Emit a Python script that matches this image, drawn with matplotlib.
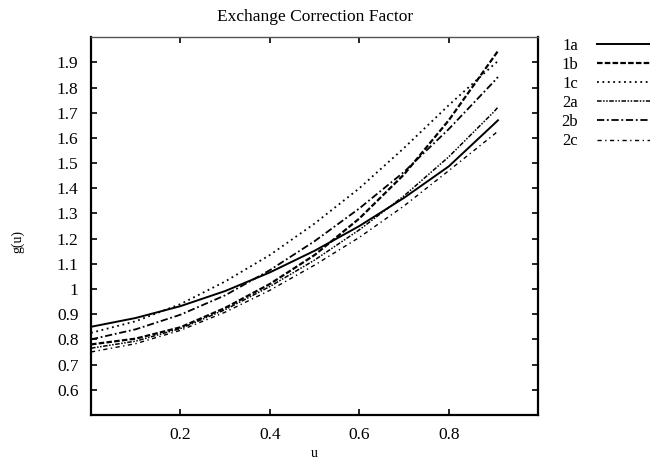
import matplotlib
matplotlib.use('Agg')
import matplotlib.pyplot as plt

plt.rcParams['font.family'] = ['Liberation Serif', 'DejaVu Serif']

# sample points along u
u = [0.0, 0.1, 0.2, 0.3, 0.4, 0.5, 0.6, 0.7, 0.8, 0.9, 0.91]
g_1a = [0.850, 0.885, 0.932, 0.992, 1.066, 1.152, 1.250, 1.362, 1.487, 1.653, 1.670]
g_1b = [0.780, 0.803, 0.848, 0.925, 1.020, 1.135, 1.280, 1.455, 1.670, 1.920, 1.945]
g_1c = [0.826, 0.872, 0.940, 1.030, 1.135, 1.260, 1.400, 1.560, 1.730, 1.890, 1.905]
g_2a = [0.765, 0.793, 0.843, 0.918, 1.010, 1.115, 1.235, 1.370, 1.525, 1.702, 1.722]
g_2b = [0.800, 0.840, 0.898, 0.975, 1.075, 1.190, 1.320, 1.465, 1.635, 1.822, 1.842]
g_2c = [0.750, 0.783, 0.836, 0.908, 0.995, 1.095, 1.205, 1.330, 1.470, 1.612, 1.627]

labels = ['1a', '1b', '1c', '2a', '2b', '2c']
series = [g_1a, g_1b, g_1c, g_2a, g_2b, g_2c]
styles = ['-', (0, (2.5, 1)), (0, (1, 2)), (0, (3, 1, 1, 1, 1, 1)),
          (0, (4, 1.5, 1, 1.5)), (0, (3, 2.5, 1, 2.5))]
widths = [1.4, 1.6, 1.3, 1.1, 1.3, 1.0]
x_ticks = [0.2, 0.4, 0.6, 0.8]
y_ticks = [0.6, 0.7, 0.8, 0.9, 1.0, 1.1, 1.2, 1.3, 1.4, 1.5, 1.6, 1.7, 1.8, 1.9]
y_tick_labels = ['0.6', '0.7', '0.8', '0.9', '1', '1.1', '1.2', '1.3', '1.4',
                 '1.5', '1.6', '1.7', '1.8', '1.9']

fig = plt.figure(figsize=(6.5, 4.59), dpi=100)
ax = fig.add_axes([0.14, 0.096, 0.688, 0.823])

for vals, lab, ls, lw in zip(series, labels, styles, widths):
    ax.plot(u, vals, color='black', linestyle=ls, linewidth=lw, label=lab)

ax.set_xlim(0, 1)
ax.set_ylim(0.5, 2.0)
ax.set_xticks(x_ticks)
ax.set_xticklabels(['0.2', '0.4', '0.6', '0.8'])
ax.set_yticks(y_ticks)
ax.set_yticklabels(y_tick_labels)
ax.tick_params(direction='in', length=4.5, width=1.2, top=True, right=True,
               labelsize=12.5, pad=9)

for side in ['left', 'bottom', 'right']:
    ax.spines[side].set_linewidth(1.6)
ax.spines['top'].set_linewidth(1.0)
ax.spines['top'].set_color('#555555')

ax.set_title('Exchange Correction Factor', fontsize=12.5, pad=12)
ax.set_xlabel('u', fontsize=10)
ax.xaxis.set_label_coords(0.5, -0.085)
ax.set_ylabel('g(u)', fontsize=10)
ax.yaxis.set_label_coords(-0.15, 0.46)

fig.legend(loc='upper left', bbox_to_anchor=(0.864, 0.918), frameon=False,
           markerfirst=False, fontsize=12, handlelength=3.4,
           labelspacing=0.19, handletextpad=1.1, borderpad=0,
           borderaxespad=0)

fig.savefig('out.png', dpi=100)
